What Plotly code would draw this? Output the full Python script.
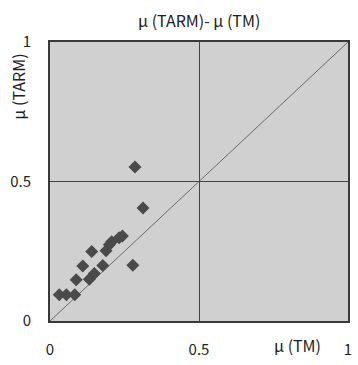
import plotly.graph_objects as go

# data
mu_tm = [0.285, 0.312, 0.243, 0.232, 0.207, 0.199, 0.188, 0.140, 0.110, 0.177,
         0.278, 0.149, 0.132, 0.088, 0.031, 0.055, 0.083]
mu_tarm = [0.552, 0.405, 0.305, 0.298, 0.284, 0.273, 0.252, 0.249, 0.197, 0.199,
           0.200, 0.170, 0.150, 0.148, 0.094, 0.094, 0.094]
tick_vals = [0, 0.5, 1]
tick_text = ["0", "0.5", "1"]

FONT = "Noto Sans CJK JP, Arial, sans-serif"

fig = go.Figure()
fig.add_trace(go.Scatter(
    x=mu_tm, y=mu_tarm, mode="markers",
    marker=dict(symbol="diamond", size=10, color="#4a4a4a", line=dict(width=0)),
    showlegend=False, hoverinfo="skip"))

fig.add_shape(type="line", xref="x", yref="y", x0=0, y0=0, x1=1, y1=1,
              line=dict(color="#6a6a6a", width=1), layer="below")

axis_common = dict(range=[0, 1], tickvals=tick_vals, ticktext=tick_text,
                   showgrid=True, gridcolor="#444444", gridwidth=1,
                   zeroline=False, showline=True, mirror=True,
                   linecolor="#3a3a3a", linewidth=2, ticks="",
                   tickfont=dict(family=FONT, size=15, color="#222222"),
                   fixedrange=True)

fig.update_layout(
    width=358, height=365,
    margin=dict(l=50, r=6, t=42, b=37),
    paper_bgcolor="white", plot_bgcolor="#d0d0d0",
    xaxis=dict(**axis_common, ticklabelstandoff=14),
    yaxis=dict(**axis_common, ticklabelstandoff=14),
    font=dict(family=FONT, color="#222222"),
    annotations=[
        dict(text="μ (TARM)- μ (TM)", xref="paper", yref="paper", x=0.5, y=1,
             xanchor="center", yanchor="middle", yshift=22, showarrow=False,
             font=dict(size=16, family=FONT)),
        dict(text="μ (TARM)", xref="paper", yref="paper", x=0, y=0.84,
             xanchor="center", yanchor="middle", xshift=-32, textangle=-90,
             showarrow=False, font=dict(size=16, family=FONT)),
        dict(text="μ (TM)", xref="paper", yref="paper", x=0.83, y=0,
             xanchor="center", yanchor="middle", yshift=-24, showarrow=False,
             font=dict(size=16, family=FONT)),
    ],
)

fig.write_html("out.html")
